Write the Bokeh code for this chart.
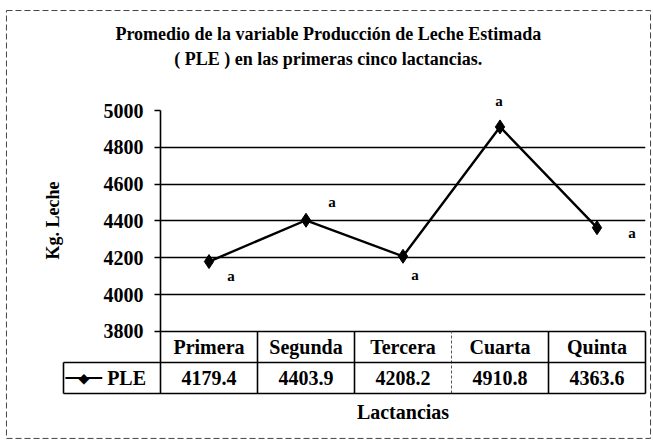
import math
from bokeh.plotting import figure
from bokeh.models import Range1d, FixedTicker, ColumnDataSource
from bokeh.core.properties import value
from bokeh.embed import file_html
from bokeh.resources import INLINE

# ---- data ----
categories = ["Primera", "Segunda", "Tercera", "Cuarta", "Quinta"]
ple = [4179.4, 4403.9, 4208.2, 4910.8, 4363.6]
sig = ["a", "a", "a", "a", "a"]
y_ticks = [3800, 4000, 4200, 4400, 4600, 4800, 5000]
grid_ticks = [3800, 4000, 4200, 4400, 4600, 4800]
series_name = "PLE"
title_lines = ["Promedio de la variable Producción de Leche Estimada",
               "( PLE ) en las primeras cinco lactancias."]
y_title = "Kg. Leche"
x_title = "Lactancias"

# ---- layout / style (not data) ----
sig_dx = [22, 26, 12, -1, 35]      # pixel offsets of the "a" letters
sig_dy = [14, -18, 19, -26, 5]
FONT = "Liberation Serif"
Y_LOW = 3463           # bottom of data table
ROW_MID = (y_ticks[0] + Y_LOW) / 2.0
n = len(categories)
xc = [i + 0.5 for i in range(n)]

p = figure(width=653, height=441, output_backend="svg", toolbar_location=None,
           title=None,
           x_range=Range1d(0, n), y_range=Range1d(Y_LOW, y_ticks[-1]),
           min_border_left=160, min_border_right=8,
           min_border_top=110, min_border_bottom=48)
p.outline_line_color = None
p.background_fill_color = "white"
p.border_fill_color = "white"

p.xaxis.visible = False
p.xgrid.visible = False
p.ygrid.ticker = FixedTicker(ticks=grid_ticks)
p.ygrid.grid_line_color = "black"
p.ygrid.grid_line_width = 1.6

ya = p.yaxis[0]
ya.ticker = FixedTicker(ticks=y_ticks)
ya.major_tick_out = 6
ya.major_tick_in = 0
ya.minor_tick_out = 0
ya.minor_tick_in = 0
ya.axis_line_color = "black"
ya.axis_line_width = 1.6
ya.major_tick_line_width = 1.6
ya.major_label_standoff = 11
ya.major_label_text_font = FONT
ya.major_label_text_font_style = "bold"
ya.major_label_text_font_size = "20px"
ya.major_label_text_color = "black"

def txt(x, y, t, size, align="center", angle=0.0, font=FONT, **kw):
    p.text(x=x, y=y, text=t, text_align=align, text_baseline="middle",
           text_font=value(font), text_font_style="bold",
           text_font_size=size, text_color="black", angle=angle,
           level="overlay", **kw)

# ---- series ----
src = ColumnDataSource(dict(x=xc, y=ple, sig=sig, dx=sig_dx, dy=sig_dy))
p.line("x", "y", source=src, line_color="black", line_width=2.4)
p.scatter("x", "y", source=src, marker="diamond", size=14,
          fill_color="black", line_color="black")
p.text(x="x", y="y", text="sig", source=src, x_offset="dx", y_offset="dy",
       text_align="center", text_baseline="middle", text_font=value(FONT),
       text_font_style="bold", text_font_size="15px", text_color="black",
       level="overlay")

# ---- data table ----
vx0 = [float(i) for i in range(1, n + 1) if i != 3]
p.segment(x0=vx0, y0=[Y_LOW] * len(vx0), x1=vx0, y1=[y_ticks[0]] * len(vx0),
          line_color="black", line_width=1.6, level="overlay")
p.segment(x0=[3.0], y0=[Y_LOW], x1=[3.0], y1=[y_ticks[0]],
          line_color="#555555", line_width=1, line_dash="3 2", level="overlay")
p.segment(x0=[-1.0, -1.0, -1.0], y0=[ROW_MID, Y_LOW, Y_LOW],
          x1=[float(n), float(n), -1.0], y1=[ROW_MID, Y_LOW, ROW_MID],
          line_color="black", line_width=1.6, level="overlay")

row1_y = (y_ticks[0] + ROW_MID) / 2.0
row2_y = (ROW_MID + Y_LOW) / 2.0
txt(xc, [row1_y] * n, categories, "20px")
txt(xc, [row2_y] * n, ["%.1f" % v for v in ple], "20px")

# legend key in table
p.line(x=[-0.98, -0.6], y=[row2_y, row2_y], line_color="black", line_width=2,
       level="overlay")
txt([-0.79], [row2_y], ["\u25c6"], "14px", font="DejaVu Sans")
txt([-0.55], [row2_y], [series_name], "20px", align="left")

# ---- titles ----
txt([1.73], [5413], [title_lines[0]], "18px")
txt([1.73], [5282], [title_lines[1]], "18px")
txt([n / 2.0], [3360], [x_title], "20px")
txt([-1.113], [4403], [y_title], "18px", angle=math.pi / 2)

# ---- outer dashed frame ----
bx = [-1.588, 5.052, 5.052, -1.588, -1.588]
by = [5543, 5543, 3219, 3219, 5543]
p.line(x=bx, y=by, line_color="#444444", line_width=1, line_dash="6 3",
       level="overlay")

open("out.html", "w").write(file_html(p, INLINE))
